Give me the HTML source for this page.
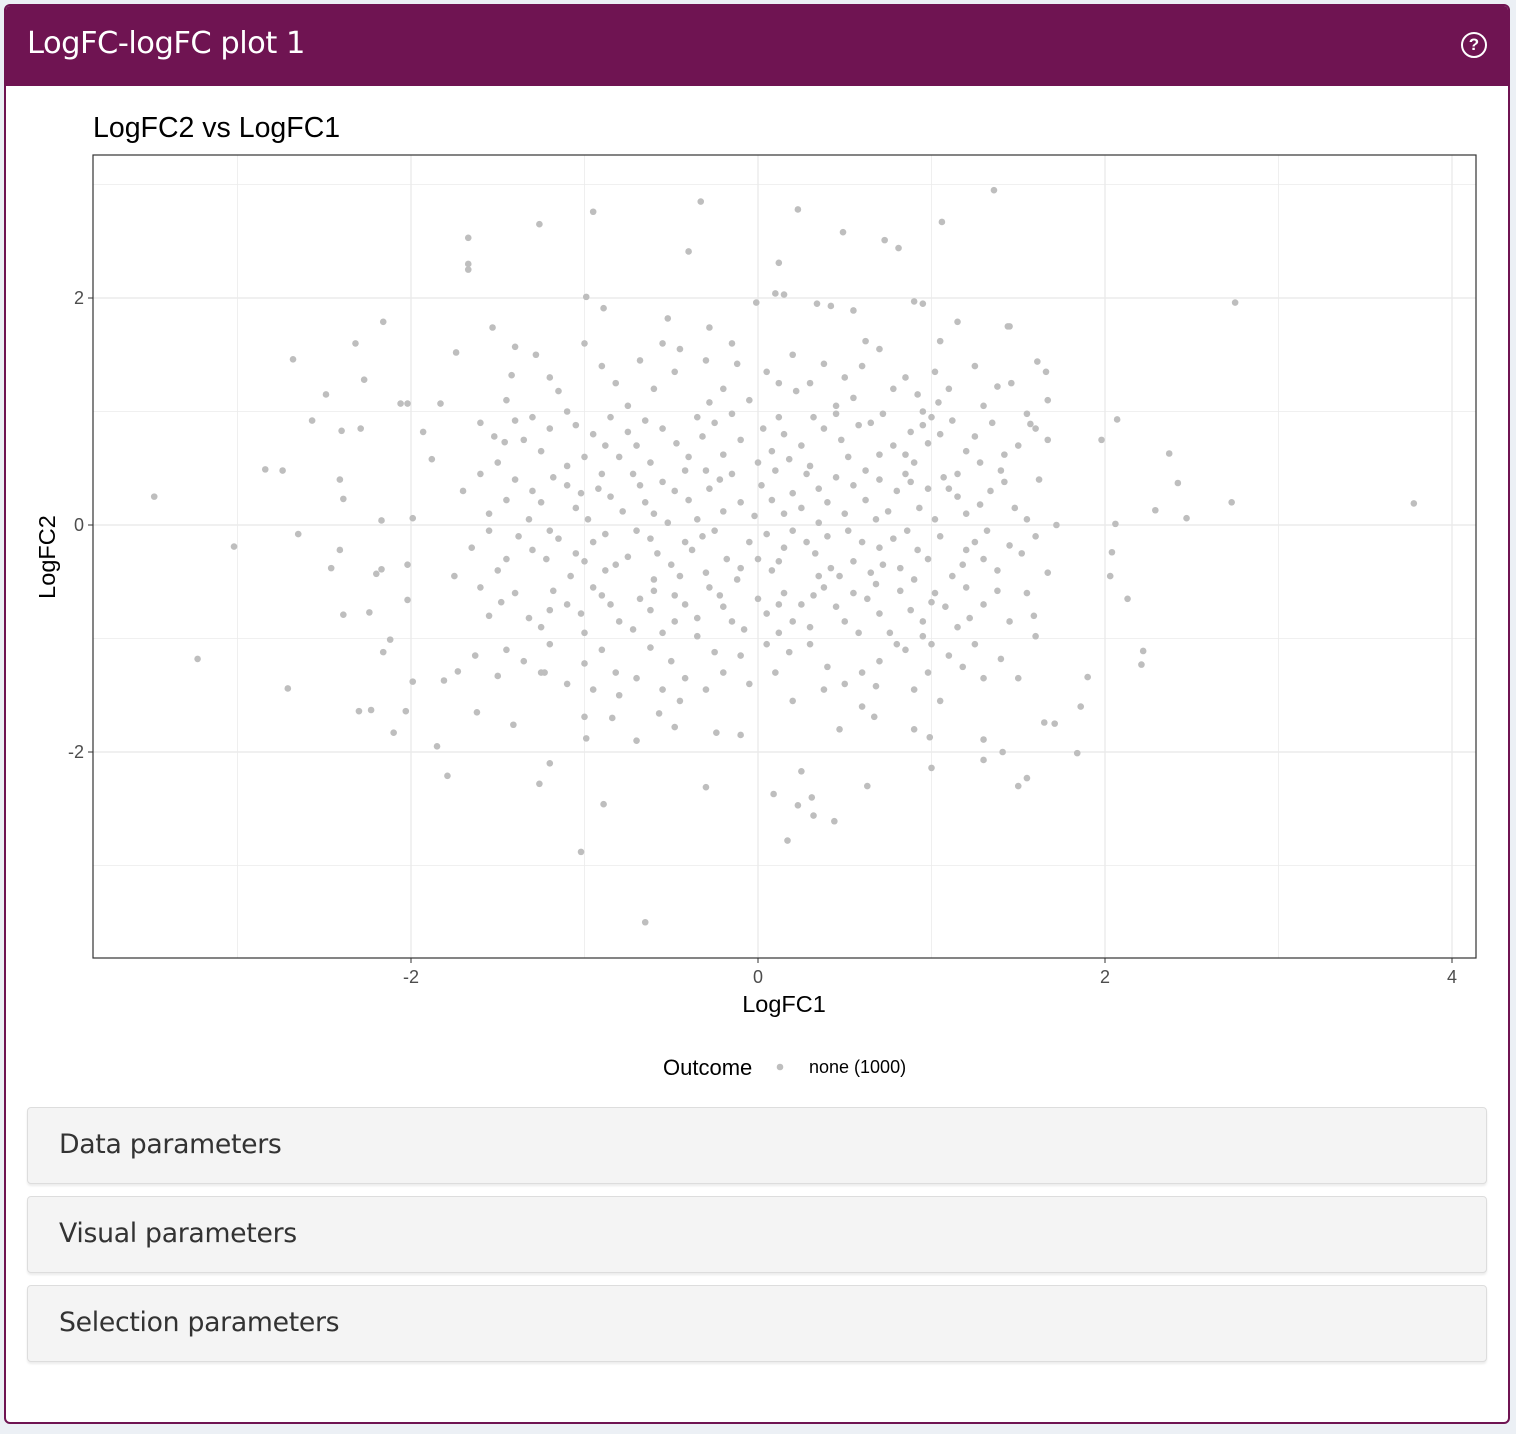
<!DOCTYPE html>
<html><head><meta charset="utf-8">
<style>
body{margin:0;background:#ecf0f5;width:1516px;height:1434px;overflow:hidden;font-family:"Liberation Sans",sans-serif;}
.box{position:absolute;left:4px;top:4px;width:1502px;height:1416px;border:2px solid #6f1452;border-radius:6px;background:#fff;overflow:hidden;}
.hdr{position:absolute;left:0;top:0;width:1502px;height:80px;background:#6f1452;color:#fff;}
.hdr .t{position:absolute;left:21px;top:20px;font-size:30.5px;font-family:"DejaVu Sans","Liberation Sans",sans-serif;letter-spacing:-0.5px;}
.help{position:absolute;left:1455px;top:26px;width:22px;height:22px;border:2.5px solid #fff;border-radius:50%;font-size:17px;font-weight:bold;text-align:center;line-height:22px;}
.acc{position:absolute;left:21px;width:1458px;height:75px;background:#f4f4f4;border:1px solid #ddd;border-radius:4px;box-shadow:0 2px 2px rgba(0,0,0,0.08);}
.acc span{position:absolute;left:31px;top:21px;font-size:26.7px;color:#333;font-family:"DejaVu Sans","Liberation Sans",sans-serif;letter-spacing:-0.3px;}
svg{position:absolute;left:0;top:0;}
</style></head><body>
<div class="box">
  <div class="hdr">
    <div class="t">LogFC-logFC plot 1</div>
    <div class="help">?</div>
  </div>
  <div class="acc" style="top:1101px"><span>Data parameters</span></div>
  <div class="acc" style="top:1190px"><span>Visual parameters</span></div>
  <div class="acc" style="top:1279px"><span>Selection parameters</span></div>
</div>
<svg id="chart" width="1516" height="1100"></svg>
<script>
const xTicks=[-2,0,2,4];
const yTicks=[-2,0,2];
const points=[
[-3.48,0.25],[-3.23,-1.18],[-3.02,-0.19],[3.78,0.19],[2.75,1.96],[2.73,0.20],[2.37,0.63],[2.42,0.37],[2.47,0.06],[2.29,0.13],
[1.36,2.95],[-0.33,2.85],[0.23,2.78],[-0.95,2.76],[-1.26,2.65],[1.06,2.67],[0.49,2.58],[0.73,2.51],[0.81,2.44],[-1.67,2.53],
[-1.67,2.30],[-1.67,2.25],[-0.40,2.41],[0.12,2.31],[-0.65,-3.50],[-1.02,-2.88],[0.17,-2.78],[0.44,-2.61],[0.32,-2.56],[-0.89,-2.46],
[0.23,-2.47],[0.09,-2.37],[0.31,-2.40],[-0.30,-2.31],[-1.26,-2.28],[-1.20,-2.10],[-1.79,-2.21],[-1.85,-1.95],[0.25,-2.17],[0.63,-2.30],
[1.00,-2.14],[1.50,-2.30],[1.55,-2.23],[1.84,-2.01],[1.41,-2.00],[1.30,-1.89],[1.30,-2.07],[2.22,-1.11],[2.21,-1.23],[2.13,-0.65],
[2.07,0.93],[1.98,0.75],[1.86,-1.60],[1.90,-1.34],[1.65,-1.74],[1.71,-1.75],[2.03,-0.45],[2.04,-0.24],[2.06,0.01],[-2.16,1.79],
[-2.32,1.60],[-2.68,1.46],[-2.49,1.15],[-2.27,1.28],[-2.57,0.92],[-2.84,0.49],[-2.74,0.48],[-2.40,0.83],[-2.29,0.85],[-2.41,0.40],
[-2.39,0.23],[-2.65,-0.08],[-2.41,-0.22],[-2.46,-0.38],[-2.39,-0.79],[-2.71,-1.44],[-2.30,-1.64],[-2.23,-1.63],[-2.10,-1.83],[-2.03,-1.64],
[-2.16,-1.12],[-2.12,-1.01],[-2.24,-0.77],[-2.20,-0.43],[-2.17,-0.39],[-2.17,0.04],[-2.02,-0.35],[-2.02,-0.66],[-2.06,1.07],[-2.02,1.07],
[-1.99,0.06],[-1.93,0.82],[-1.99,-1.38],[-1.81,-1.37],[-1.73,-1.29],[-1.83,1.07],[-1.74,1.52],[-1.88,0.58],[-1.53,1.74],[-1.40,1.57],
[-1.46,0.73],[-1.63,-1.15],[-1.62,-1.65],[-1.50,-1.33],[-1.41,-1.76],[-1.23,-1.30],[-0.99,2.01],[-0.89,1.91],[-0.52,1.82],[-0.28,1.74],
[-0.01,1.96],[0.10,2.04],[0.15,2.03],[0.34,1.95],[0.42,1.93],[0.55,1.89],[0.90,1.97],[0.95,1.95],[1.15,1.79],[1.44,1.75],
[1.45,1.75],[1.05,1.62],[1.61,1.44],[1.66,1.35],[1.67,1.10],[1.57,0.89],[1.67,0.75],[1.46,1.25],[1.04,1.08],[1.72,0],
[1.67,-0.42],[1.59,-0.80],[1.60,-0.98],[1.50,-1.35],[0.99,-1.87],[0.90,-1.80],[0.67,-1.69],[0.47,-1.80],[-0.10,-1.85],[-0.24,-1.83],
[-0.48,-1.78],[-0.70,-1.90],[-0.84,-1.70],[-0.99,-1.88],[-1.00,-1.69],[-0.57,-1.66],
[-1.2,1.3],[-0.9,1.4],[-0.6,1.2],[-0.3,1.45],[0.05,1.35],[0.3,1.25],[0.6,1.4],[0.85,1.3],[1.1,1.2],[-1.45,1.1],[-0.75,1.05],[-0.05,1.1],[0.45,1.05],[0.95,1.0],[1.3,1.05],[-1.1,1.0],[0.2,1.5],[-0.45,1.55],[0.7,1.55],[-1.0,1.6],[1.25,1.4],[-0.2,1.2],[0.5,1.3],[-0.55,1.6],
[-1.6,0.9],[-1.35,0.75],[-1.2,0.85],[-1.0,0.6],[-0.85,0.95],[-0.7,0.7],[-0.55,0.85],[-0.4,0.6],[-0.25,0.9],[-0.1,0.75],[0.0,0.55],[0.12,0.95],[0.25,0.7],[0.38,0.85],[0.52,0.6],[0.65,0.9],[0.78,0.7],[0.9,0.55],[1.05,0.8],[1.2,0.65],[1.35,0.9],[1.5,0.7],[-1.5,0.55],[-0.95,0.8],[-0.62,0.55],[-0.32,0.78],[0.08,0.65],[0.45,0.98],[0.7,0.62],[1.0,0.95],[1.28,0.55],[-1.1,0.52],[0.3,0.52],[-0.15,0.98],[0.88,0.82],[-0.8,0.6],[1.6,0.85],[-1.3,0.95],
[-1.7,0.3],[-1.55,0.1],[-1.4,0.4],[-1.25,0.2],[-1.1,0.35],[-0.98,0.05],[-0.85,0.25],[-0.72,0.45],[-0.6,0.1],[-0.48,0.3],[-0.35,0.05],[-0.22,0.4],[-0.1,0.2],[0.02,0.35],[0.15,0.1],[0.28,0.45],[0.4,0.2],[0.55,0.35],[0.68,0.05],[0.8,0.3],[0.93,0.15],[1.07,0.42],[1.2,0.1],[1.34,0.3],[1.48,0.15],[1.62,0.4],[-1.32,0.05],[-0.9,0.45],[-0.42,0.48],[0.1,0.48],[0.62,0.48],[1.15,0.25],[-0.65,0.2],[0.35,0.02],[0.85,0.45],[-0.2,0.12],[1.4,0.48],[-1.05,0.15],[0.5,0.1],[-0.55,0.38],[0.2,0.28],[0.98,0.32],
[-1.65,-0.2],[-1.5,-0.4],[-1.38,-0.1],[-1.22,-0.3],[-1.08,-0.45],[-0.95,-0.15],[-0.82,-0.35],[-0.7,-0.05],[-0.58,-0.25],[-0.45,-0.45],[-0.32,-0.1],[-0.18,-0.3],[-0.05,-0.15],[0.08,-0.4],[0.2,-0.05],[0.33,-0.25],[0.47,-0.45],[0.6,-0.15],[0.72,-0.35],[0.86,-0.05],[0.98,-0.3],[1.12,-0.45],[1.25,-0.15],[1.38,-0.4],[1.52,-0.25],[-1.75,-0.45],[-1.2,-0.05],[-0.6,-0.48],[0.0,-0.3],[0.4,-0.1],[0.9,-0.48],[1.6,-0.1],[-0.3,-0.42],[0.15,-0.2],[0.7,-0.2],[-0.88,-0.4],[1.3,-0.3],[-0.12,-0.48],[0.55,-0.32],[-1.45,-0.3],
[-1.55,-0.8],[-1.4,-0.6],[-1.25,-0.9],[-1.1,-0.7],[-0.95,-0.55],[-0.8,-0.85],[-0.68,-0.65],[-0.55,-0.95],[-0.42,-0.7],[-0.28,-0.55],[-0.15,-0.85],[0.0,-0.65],[0.12,-0.95],[0.25,-0.7],[0.38,-0.55],[0.5,-0.85],[0.63,-0.65],[0.76,-0.95],[0.88,-0.75],[1.02,-0.6],[1.15,-0.9],[1.3,-0.7],[1.45,-0.85],[-1.0,-0.95],[-0.35,-0.98],[0.3,-0.9],[0.95,-0.98],[1.55,-0.6],[-1.6,-0.55],[-0.6,-0.58],[0.68,-0.52],[-0.2,-0.72],[0.15,-0.6],[1.2,-0.55],[-0.85,-0.7],
[-1.35,-1.2],[-1.1,-1.4],[-0.9,-1.1],[-0.7,-1.35],[-0.5,-1.2],[-0.3,-1.45],[-0.1,-1.15],[0.1,-1.3],[0.3,-1.05],[0.5,-1.4],[0.7,-1.2],[0.9,-1.45],[1.1,-1.15],[1.3,-1.35],[-0.8,-1.5],[0.2,-1.55],[0.6,-1.6],[1.0,-1.05],[-0.2,-1.3],[-1.2,-1.05],[0.4,-1.25],[0.85,-1.1],[-0.45,-1.55],[1.25,-1.05],
[-1.42,1.32],[-1.15,1.18],[-0.82,1.25],[-0.48,1.35],[-0.12,1.42],[0.22,1.18],[0.55,1.12],[0.78,1.2],[1.02,1.35],[1.38,1.22],[-0.68,1.45],[0.38,1.42],[-0.28,1.08],[0.12,1.25],[0.92,1.15],[-1.28,1.5],[0.62,1.62],[-0.15,1.6],
[-1.52,0.78],[-1.25,0.65],[-1.05,0.88],[-0.88,0.7],[-0.65,0.92],[-0.47,0.72],[-0.2,0.62],[0.03,0.85],[0.18,0.58],[0.32,0.95],[0.48,0.75],[0.58,0.88],[0.72,0.98],[0.85,0.62],[0.98,0.72],[1.12,0.92],[1.25,0.78],[1.42,0.62],[-1.4,0.92],[-0.35,0.95],[0.15,0.8],[0.95,0.88],[-0.75,0.82],[1.55,0.98],
[-1.6,0.45],[-1.45,0.22],[-1.18,0.42],[-1.02,0.28],[-0.78,0.12],[-0.68,0.35],[-0.52,0.02],[-0.4,0.22],[-0.28,0.32],[-0.15,0.45],[-0.02,0.08],[0.08,0.22],[0.25,0.15],[0.45,0.42],[0.62,0.22],[0.75,0.12],[0.88,0.38],[1.02,0.05],[1.15,0.45],[1.28,0.18],[1.42,0.38],[1.55,0.05],[-0.92,0.32],[0.35,0.32],[-0.3,0.48],[0.7,0.4],[-1.3,0.3],[1.1,0.32],
[-1.55,-0.05],[-1.3,-0.22],[-1.15,-0.12],[-1.0,-0.32],[-0.88,-0.08],[-0.75,-0.28],[-0.62,-0.12],[-0.5,-0.35],[-0.38,-0.22],[-0.25,-0.05],[-0.1,-0.38],[0.05,-0.08],[0.12,-0.32],[0.28,-0.15],[0.42,-0.38],[0.52,-0.05],[0.65,-0.42],[0.78,-0.12],[0.92,-0.22],[1.05,-0.1],[1.18,-0.35],[1.32,-0.05],[1.45,-0.18],[-0.42,-0.15],[0.35,-0.45],[0.82,-0.38],[-1.05,-0.25],[1.2,-0.22],
[-1.48,-0.68],[-1.32,-0.82],[-1.18,-0.58],[-1.02,-0.78],[-0.9,-0.62],[-0.72,-0.92],[-0.62,-0.75],[-0.48,-0.62],[-0.35,-0.82],[-0.22,-0.62],[-0.08,-0.92],[0.05,-0.78],[0.2,-0.85],[0.32,-0.62],[0.45,-0.72],[0.58,-0.95],[0.7,-0.78],[0.82,-0.58],[0.95,-0.85],[1.08,-0.72],[1.22,-0.82],[1.38,-0.58],[-0.48,-0.85],[0.12,-0.7],[0.55,-0.6],[1.0,-0.68],[-1.2,-0.75],
[-1.45,-1.1],[-1.25,-1.3],[-1.0,-1.22],[-0.82,-1.3],[-0.62,-1.08],[-0.42,-1.35],[-0.25,-1.12],[-0.05,-1.4],[0.18,-1.12],[0.38,-1.45],[0.6,-1.3],[0.8,-1.05],[0.98,-1.3],[1.18,-1.25],[1.4,-1.18],[-0.55,-1.45],[0.05,-1.05],[0.68,-1.42],[-0.95,-1.45],[1.05,-1.55]
];
const legendLabels=["none (1000)"];

const NS="http://www.w3.org/2000/svg";
const svg=document.getElementById('chart');
const L=93,R=1476,T=155,B=958;
function sx(v){return 758+v*173.5;}
function sy(v){return 525-v*113.5;}
function mk(tag,attrs,parent){const e=document.createElementNS(NS,tag);for(const k in attrs)e.setAttribute(k,attrs[k]);(parent||svg).appendChild(e);return e;}
for(let v=-4;v<=4;v+=1){
  const x=sx(v); if(x>L&&x<R){const g=mk('line',{x1:x,x2:x,y1:T,y2:B,stroke:'#ebebeb','stroke-width':Math.abs(v)%2===0?1.4:0.8});
  
  }
  const y=sy(v); if(y>T&&y<B){const g=mk('line',{x1:L,x2:R,y1:y,y2:y,stroke:'#ebebeb','stroke-width':Math.abs(v)%2===0?1.4:0.8});
  
  }
}
const pts=mk('g',{fill:'#bebebe'});


points.forEach(p=>{const c=mk('circle',{cx:sx(p[0]),cy:sy(p[1]),r:3.3},pts);

});
const fr=mk('rect',{x:L,y:T,width:R-L,height:B-T,fill:'none',stroke:'#333','stroke-width':1.2});


xTicks.forEach(v=>{const x=sx(v);mk('line',{x1:x,x2:x,y1:B,y2:B+5,stroke:'#333'});
const t=mk('text',{x:x,y:B+25,'text-anchor':'middle','font-size':18,fill:'#4d4d4d'});t.textContent=v;

});
yTicks.forEach(v=>{const y=sy(v);mk('line',{x1:L-5,x2:L,y1:y,y2:y,stroke:'#333'});
const t=mk('text',{x:L-9,y:y+6,'text-anchor':'end','font-size':18,fill:'#4d4d4d'});t.textContent=v;

});
let t=mk('text',{x:93,y:137,'font-size':28.5,fill:'#000'});t.textContent='LogFC2 vs LogFC1';


t=mk('text',{x:784,y:1012,'text-anchor':'middle','font-size':23.5,fill:'#000'});t.textContent='LogFC1';


t=mk('text',{x:55,y:557,'text-anchor':'middle','font-size':23.5,fill:'#000',transform:'rotate(-90 55 557)'});t.textContent='LogFC2';


t=mk('text',{x:663,y:1075,'font-size':22,fill:'#000'});t.textContent='Outcome';


legendLabels.forEach((lab,i)=>{
 const c=mk('circle',{cx:780,cy:1067,r:3.3,fill:'#bebebe'});
 
 
 const tt=mk('text',{x:809,y:1073,'font-size':18,fill:'#000'});tt.textContent=lab;
 
 
});
</script>
</body></html>
